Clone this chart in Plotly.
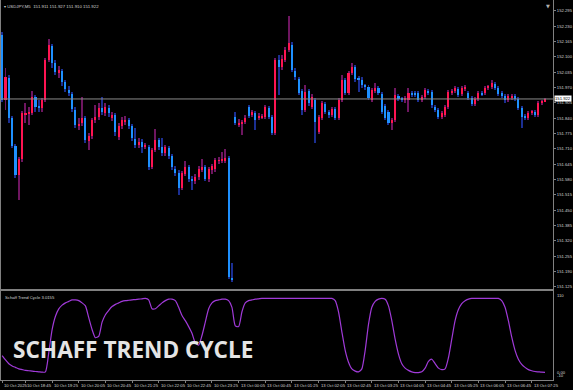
import plotly.graph_objects as go
import pandas as pd

# ---------------- data ----------------
symbol_header = "\u25be USDJPY,M5  151.911 151.927 151.910 151.922"
indicator_name = "Schaff Trend Cycle 3.0155"
overlay_title = "SCHAFF TREND CYCLE"
bid_price = 151.922

opens = [
    152.194, 151.918, 152.011, 151.842, 151.723, 151.600, 151.668, 151.857, 151.861, 151.863,
    151.931, 151.888, 151.884, 151.918, 152.087, 152.147, 152.075, 152.032, 152.041, 151.994,
    151.960, 151.943, 151.876, 151.808, 151.820, 151.842, 151.744, 151.765, 151.833, 151.846,
    151.884, 151.863, 151.884, 151.842, 151.855, 151.761, 151.808, 151.825, 151.833, 151.808,
    151.753, 151.727, 151.740, 151.719, 151.719, 151.634, 151.706, 151.748, 151.719, 151.693,
    151.714, 151.681, 151.625, 151.609, 151.545, 151.604, 151.634, 151.583, 151.575, 151.592,
    151.621, 151.634, 151.583, 151.621, 151.625, 151.659, 151.659, 151.659, 151.672, 151.163,
    151.846, 151.812, 151.816, 151.825, 151.888, 151.855, 151.863, 151.842, 151.842, 151.846,
    151.884, 151.846, 151.778, 152.087, 152.058, 152.087, 152.130, 152.151, 152.041, 152.007,
    151.956, 151.876, 151.956, 151.888, 151.918, 151.782, 151.842, 151.901, 151.867, 151.855,
    151.880, 151.842, 151.918, 152.003, 151.948, 152.032, 152.058, 152.007, 152.003, 151.977,
    151.973, 151.918, 151.956, 151.969, 151.943, 151.893, 151.867, 151.820, 151.833, 151.935,
    151.922, 151.918, 151.918, 151.948, 151.948, 151.948, 151.918, 151.931, 151.952, 151.952,
    151.888, 151.876, 151.846, 151.855, 151.888, 151.948, 151.956, 151.965, 151.943, 151.965,
    151.948, 151.926, 151.901, 151.922, 151.948, 151.948, 151.969, 151.973, 151.986, 151.969,
    151.948, 151.935, 151.918, 151.926, 151.935, 151.922, 151.884, 151.850, 151.842, 151.863,
    151.867, 151.855, 151.905, 151.911,
]
highs = [
    152.207, 152.053, 152.024, 151.850, 151.731, 151.676, 151.872, 151.905, 151.888, 151.956,
    151.939, 151.918, 151.926, 152.096, 152.177, 152.155, 152.087, 152.062, 152.049, 152.003,
    151.977, 151.952, 151.888, 151.842, 151.931, 151.850, 151.778, 151.842, 151.897, 151.905,
    151.931, 151.905, 151.897, 151.867, 151.863, 151.820, 151.846, 151.850, 151.842, 151.816,
    151.799, 151.757, 151.753, 151.736, 151.727, 151.714, 151.795, 151.757, 151.757, 151.727,
    151.723, 151.689, 151.638, 151.621, 151.617, 151.659, 151.642, 151.596, 151.604, 151.638,
    151.668, 151.642, 151.634, 151.647, 151.672, 151.676, 151.698, 151.710, 151.681, 151.227,
    151.867, 151.837, 151.833, 151.855, 151.897, 151.876, 151.872, 151.863, 151.859, 151.897,
    151.893, 151.855, 152.096, 152.109, 152.109, 152.143, 152.274, 152.164, 152.053, 152.015,
    151.965, 151.982, 151.965, 151.943, 151.926, 151.855, 151.914, 151.910, 151.876, 151.888,
    151.888, 151.926, 152.024, 152.011, 152.041, 152.075, 152.066, 152.020, 152.015, 151.986,
    151.982, 151.969, 151.990, 151.977, 151.952, 151.901, 151.876, 151.842, 151.969, 151.943,
    151.931, 151.935, 151.969, 151.956, 151.956, 151.956, 151.939, 151.969, 151.965, 151.960,
    151.897, 151.884, 151.872, 151.897, 151.960, 151.965, 151.977, 151.973, 151.977, 151.982,
    151.956, 151.935, 151.931, 151.956, 151.956, 151.977, 151.982, 152.003, 151.994, 151.977,
    151.956, 151.943, 151.943, 151.943, 151.943, 151.931, 151.893, 151.859, 151.872, 151.876,
    151.876, 151.914, 151.918, 151.927,
]
lows = [
    151.910, 151.876, 151.820, 151.714, 151.587, 151.494, 151.655, 151.820, 151.812, 151.855,
    151.867, 151.867, 151.867, 151.910, 152.079, 152.053, 152.024, 152.011, 151.977, 151.952,
    151.935, 151.867, 151.799, 151.791, 151.808, 151.736, 151.706, 151.753, 151.820, 151.833,
    151.855, 151.850, 151.846, 151.829, 151.765, 151.748, 151.795, 151.812, 151.795, 151.744,
    151.714, 151.714, 151.693, 151.710, 151.621, 151.625, 151.698, 151.706, 151.681, 151.681,
    151.668, 151.621, 151.596, 151.515, 151.536, 151.596, 151.570, 151.536, 151.562, 151.579,
    151.613, 151.575, 151.570, 151.604, 151.613, 151.647, 151.651, 151.651, 151.159, 151.146,
    151.812, 151.804, 151.770, 151.816, 151.842, 151.846, 151.791, 151.833, 151.837, 151.837,
    151.837, 151.770, 151.770, 151.939, 152.045, 152.079, 152.122, 152.037, 152.003, 151.939,
    151.855, 151.867, 151.893, 151.880, 151.736, 151.774, 151.833, 151.859, 151.842, 151.846,
    151.833, 151.833, 151.910, 151.939, 151.939, 152.024, 151.994, 151.952, 151.969, 151.960,
    151.918, 151.910, 151.948, 151.939, 151.859, 151.833, 151.812, 151.791, 151.825, 151.914,
    151.910, 151.905, 151.867, 151.931, 151.931, 151.910, 151.910, 151.922, 151.939, 151.884,
    151.867, 151.837, 151.837, 151.846, 151.880, 151.939, 151.948, 151.931, 151.935, 151.956,
    151.918, 151.893, 151.893, 151.914, 151.935, 151.939, 151.960, 151.965, 151.960, 151.935,
    151.926, 151.905, 151.910, 151.918, 151.914, 151.876, 151.799, 151.833, 151.833, 151.855,
    151.846, 151.846, 151.897, 151.910,
]
closes = [
    151.918, 152.015, 151.842, 151.723, 151.600, 151.668, 151.863, 151.863, 151.866, 151.931,
    151.888, 151.884, 151.918, 152.087, 152.151, 152.075, 152.037, 152.045, 151.994, 151.965,
    151.948, 151.880, 151.812, 151.816, 151.842, 151.748, 151.765, 151.833, 151.846, 151.884,
    151.867, 151.888, 151.863, 151.855, 151.782, 151.808, 151.833, 151.833, 151.808, 151.757,
    151.727, 151.740, 151.719, 151.725, 151.634, 151.706, 151.748, 151.719, 151.693, 151.719,
    151.681, 151.634, 151.609, 151.545, 151.609, 151.634, 151.583, 151.575, 151.592, 151.625,
    151.634, 151.583, 151.625, 151.638, 151.664, 151.662, 151.668, 151.672, 151.167, 151.154,
    151.820, 151.818, 151.825, 151.842, 151.850, 151.867, 151.833, 151.850, 151.848, 151.888,
    151.846, 151.778, 152.087, 152.058, 152.092, 152.130, 152.160, 152.045, 152.015, 151.948,
    151.876, 151.952, 151.905, 151.931, 151.825, 151.846, 151.905, 151.867, 151.855, 151.880,
    151.842, 151.918, 152.003, 151.948, 152.032, 152.058, 152.007, 152.003, 151.982, 151.973,
    151.926, 151.960, 151.969, 151.948, 151.867, 151.842, 151.820, 151.833, 151.939, 151.922,
    151.918, 151.922, 151.948, 151.939, 151.939, 151.918, 151.931, 151.960, 151.948, 151.897,
    151.876, 151.846, 151.863, 151.888, 151.952, 151.956, 151.969, 151.939, 151.969, 151.971,
    151.926, 151.901, 151.922, 151.948, 151.941, 151.969, 151.973, 151.990, 151.969, 151.943,
    151.935, 151.918, 151.935, 151.935, 151.922, 151.884, 151.846, 151.842, 151.863, 151.867,
    151.855, 151.905, 151.910, 151.922,
]
stc_values = [
    23, 17, 12, 9, 7, 5, 4, 3, 2.5, 2,
    1.5, 1, 0.5, 1, 27, 58, 76, 86, 91, 94,
    96, 98, 98, 97, 94, 90, 74, 58, 47, 49,
    68, 78, 84, 89, 92, 94, 96, 97, 97.5, 98,
    98.5, 99, 99.5, 100, 98, 86, 86, 90, 94, 97,
    99, 99, 97, 88, 77, 70, 62, 53, 40, 37,
    50, 68, 86, 94, 97, 98, 99, 99, 97, 88,
    63, 62, 82, 94, 97, 98, 99, 99.5, 100, 100,
    100, 100, 100, 100, 100, 100, 100, 100, 100, 100,
    100, 100, 100, 100, 100, 100, 100, 100, 100, 100,
    97, 82, 55, 30, 14, 5, 2, 1, 5, 30,
    65, 88, 96, 99, 100, 99, 90, 70, 45, 25,
    12, 6, 3, 1, 0, 0, 1, 6, 15, 18,
    12, 6, 4, 5, 20, 45, 70, 85, 93, 97,
    99, 100, 100, 100, 100, 100, 100, 100, 100, 100,
    97, 88, 70, 48, 30, 18, 11, 7, 4, 2.5,
    1.5, 1, 0.5, 0.3,
]

price_ticks = [152.295, 152.230, 152.165, 152.100, 152.035, 151.970, 151.905, 151.840,
               151.775, 151.710, 151.645, 151.580, 151.515, 151.450, 151.385, 151.320,
               151.255, 151.190, 151.125]

time_tick_labels = ["10 Oct 2025", "10 Oct 18:45", "10 Oct 19:25", "10 Oct 20:05", "10 Oct 20:45",
                    "10 Oct 21:25", "10 Oct 22:05", "10 Oct 22:45", "10 Oct 23:25", "13 Oct 00:05",
                    "13 Oct 00:45", "13 Oct 01:25", "13 Oct 02:05", "13 Oct 02:45", "13 Oct 03:25",
                    "13 Oct 04:05", "13 Oct 04:45", "13 Oct 05:25", "13 Oct 06:05", "13 Oct 06:45",
                    "13 Oct 07:25"]

# bar times (M5): Friday session then Monday after the weekend gap
friday_times = pd.date_range("2025-10-10 18:10", "2025-10-10 23:55", freq="5min")
monday_times = pd.date_range("2025-10-13 00:00", periods=len(opens) - len(friday_times), freq="5min")
bar_times = list(friday_times) + list(monday_times)
bar_labels = [t.strftime("%d %b %H:%M") for t in bar_times]
idx = list(range(len(opens)))

tick_positions = [0] + [bar_labels.index(lbl) for lbl in time_tick_labels[1:]]

# ---------------- style ----------------
BULL = "#ff1452"
BEAR = "#1e90ff"
BULL_WICK = "#6e1660"
BEAR_WICK = "#1b2f92"
GRID = "#808080"
TXT = "#d4d4d4"
SMALL = 4.2
FONT = "Liberation Sans, Arial, sans-serif"

is_bull = [c >= o for o, c in zip(opens, closes)]
body_base = [min(o, c) for o, c in zip(opens, closes)]
body_h = [max(abs(c - o), 0.004) for o, c in zip(opens, closes)]
wick_h = [h - l for h, l in zip(highs, lows)]

fig = go.Figure()
fig.add_trace(go.Bar(
    x=idx, y=wick_h, base=lows, width=0.3,
    marker=dict(color=[BULL_WICK if b else BEAR_WICK for b in is_bull], line=dict(width=0)),
    xaxis="x", yaxis="y", hoverinfo="skip"))
fig.add_trace(go.Bar(
    x=idx, y=body_h, base=body_base, width=0.62,
    marker=dict(color=[BULL if b else BEAR for b in is_bull], line=dict(width=0)),
    xaxis="x", yaxis="y", hoverinfo="skip"))
fig.add_trace(go.Scatter(
    x=idx, y=stc_values, mode="lines",
    line=dict(color="#a03ad8", width=1.2, shape="spline", smoothing=0.6),
    xaxis="x2", yaxis="y2", hoverinfo="skip"))

xr = [-0.35, 165.4]
main_dom = [0.2395, 1.0]
panel_dom = [0.0, 0.2342]

fig.update_layout(
    width=573, height=390,
    margin=dict(l=1, r=20, t=0, b=10, autoexpand=False),
    paper_bgcolor="black", plot_bgcolor="black",
    showlegend=False, barmode="overlay", bargap=0,
    font=dict(family=FONT, color=TXT, size=SMALL),
    xaxis=dict(domain=[0, 1], range=xr, anchor="y", showgrid=False, zeroline=False,
               showticklabels=False, ticks="", showline=True, linecolor=GRID, mirror=True),
    xaxis2=dict(domain=[0, 1], range=xr, anchor="y2", matches="x", showgrid=False, zeroline=False,
                tickvals=tick_positions, ticks="outside", ticklen=2, tickcolor=GRID,
                showticklabels=False, showline=True, linecolor=GRID, mirror=True),
    yaxis=dict(domain=main_dom, range=[151.1162, 152.3416], side="right",
               tickvals=price_ticks, ticktext=[f"{p:.3f}" for p in price_ticks],
               tickfont=dict(size=SMALL, color=TXT, family=FONT),
               ticks="outside", ticklen=2, tickcolor=GRID, showgrid=False, zeroline=False,
               ticklabeloverflow="allow", ticklabelstandoff=0,
               showline=True, linecolor=GRID, mirror=True, automargin=False),
    yaxis2=dict(domain=panel_dom, range=[-10, 110], side="right", showticklabels=False,
                showgrid=False, zeroline=False, ticks="",
                showline=True, linecolor=GRID, mirror=True, automargin=False),
)

# bid line
fig.add_shape(type="line", xref="paper", x0=0, x1=1, yref="y", y0=bid_price, y1=bid_price,
              line=dict(color="#8a8a8a", width=1))

ann = []
# bid price box
ann.append(dict(xref="paper", x=1, yref="y", y=bid_price, text=f"{bid_price:.3f}",
                xanchor="left", yanchor="middle", xshift=1, showarrow=False,
                bgcolor="white", borderpad=0, font=dict(size=SMALL, color="black", family=FONT)))
# time labels
for pos, lbl in zip(tick_positions, time_tick_labels):
    ann.append(dict(xref="x", x=pos, yref="paper", y=0, yshift=-5, text=lbl,
                    xanchor="left", yanchor="middle", showarrow=False,
                    font=dict(size=SMALL, color=TXT, family=FONT)))
# panel scale labels
for val, txt, ya in [(110, "110", "top"), (0, "0.00", "middle"), (-10, "-10", "bottom")]:
    ann.append(dict(xref="paper", x=1, xshift=2, yref="y2", y=val, text=txt,
                    xanchor="left", yanchor=ya, showarrow=False,
                    font=dict(size=SMALL, color=TXT, family=FONT)))
# header
ann.append(dict(xref="paper", x=0, yref="paper", y=1, xshift=1, yshift=-2, text=symbol_header,
                xanchor="left", yanchor="top", showarrow=False,
                font=dict(size=4.3, color=TXT, family=FONT)))
# chart shift marker
ann.append(dict(xref="paper", x=1, yref="paper", y=1, xshift=-1, yshift=-1, text="\u25bc",
                xanchor="right", yanchor="top", showarrow=False,
                font=dict(size=5, color="#b0b0b0", family="DejaVu Sans")))
# indicator name
ann.append(dict(xref="paper", x=0, yref="paper", y=panel_dom[1], xshift=2, yshift=-2,
                text=indicator_name, xanchor="left", yanchor="top", showarrow=False,
                font=dict(size=SMALL, color=TXT, family=FONT)))
# overlay title
ann.append(dict(xref="paper", x=0.018, yref="paper", y=0.079, text=f"<b>{overlay_title}</b>",
                xanchor="left", yanchor="middle", showarrow=False,
                font=dict(size=22.6, color="#e4e4e4", family="Open Sans")))
fig.update_layout(annotations=ann)

fig.write_html("out.html", config={"displayModeBar": False},
               post_script="document.body.style.margin='0';document.body.style.overflow='hidden';")
